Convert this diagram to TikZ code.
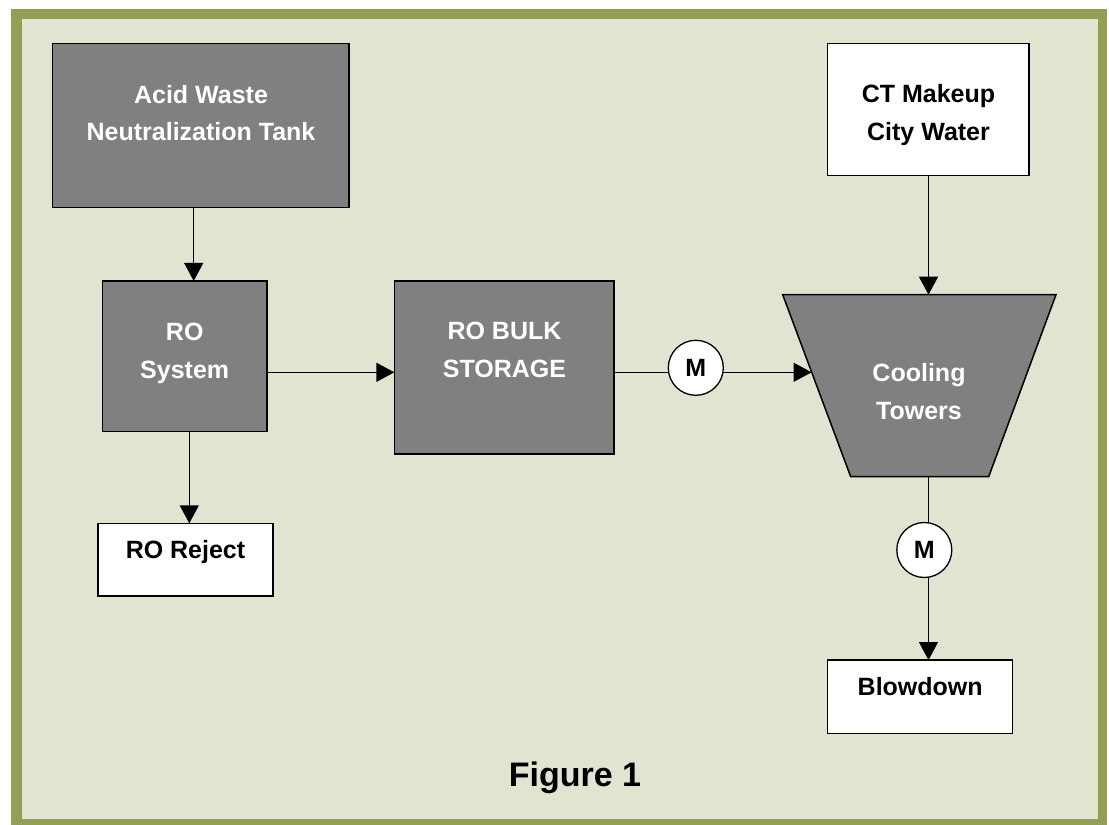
\documentclass[tikz,border=0pt]{standalone}
\usepackage{fontspec}
\setmainfont{Liberation Sans}
\usetikzlibrary{arrows.meta}
\definecolor{frameolive}{HTML}{959E55}
\definecolor{framebg}{HTML}{E2E4D2}
\definecolor{boxgray}{HTML}{808080}
\begin{document}
\begin{tikzpicture}[x=1pt,y=-1pt,
  boxg/.style={draw=black, line width=1.5pt, fill=boxgray, inner sep=0pt, outer sep=0pt},
  boxw/.style={draw=black, line width=1.5pt, fill=white, inner sep=0pt, outer sep=0pt},
  txtw/.style={text=white, font=\bfseries\fontsize{25}{37.5}\selectfont, align=center, text height=18pt, text depth=5pt, inner sep=0pt},
  txtb/.style={text=black, font=\bfseries\fontsize{25}{37.5}\selectfont, align=center, text height=18pt, text depth=5pt, inner sep=0pt},
  meter/.style={circle, draw=black, line width=1.3pt, fill=white, minimum size=55pt, inner sep=0pt, outer sep=0pt, font=\bfseries\fontsize{25}{30}\selectfont},
  ln/.style={line width=1.3pt},
  arr/.style={line width=1.3pt, -{Triangle[length=18pt,width=19pt]}}
]
\useasboundingbox (0,0) rectangle (1109,825);
\fill[white] (0,0) rectangle (1109,825);
% frame
\fill[frameolive] (11,9) rectangle (1107,835);
\fill[framebg] (21.5,19.3) rectangle (1097.5,819.3);

% boxes
\node[boxg, minimum width=296.7pt, minimum height=164pt] (acid) at (200.7,125.3) {};
\node[txtw] (acidT) at (201,134.2) {Acid Waste\\Neutralization Tank};

\node[boxg, minimum width=164.7pt, minimum height=150.7pt] (ro) at (184.7,356.3) {};
\node[txtw] (roT) at (184.7,371.5) {RO\\System};

\node[boxg, minimum width=219.7pt, minimum height=173pt] (bulk) at (504.2,367.5) {};
\node[txtw] (bulkT) at (504.5,370.5) {RO BULK\\STORAGE};

\node[boxw, minimum width=175pt, minimum height=72.7pt] (reject) at (185.5,559.7) {};
\node[txtb] (rejectT) at (185.5,552) {RO Reject};

\node[boxw, minimum width=201.3pt, minimum height=132.4pt] (ctm) at (928.3,109.5) {};
\node[txtb] (ctmT) at (928.5,133.5) {CT Makeup\\City Water};

\node[boxw, minimum width=185pt, minimum height=73.3pt] (blow) at (920.2,696.7) {};
\node[txtb] (blowT) at (920.2,689) {Blowdown};

% cooling towers (trapezoid)
\coordinate (tTL) at (782.7,294.7);
\coordinate (tTR) at (1056,294.7);
\coordinate (tBR) at (988.7,476.7);
\coordinate (tBL) at (850.7,476.7);
\draw[fill=boxgray, line width=1.5pt, line join=miter] (tTL) -- (tTR) -- (tBR) -- (tBL) -- cycle;
\coordinate (tIn) at (811.6,372.3);
\node[txtw] (towerT) at (919,412.5) {Cooling\\Towers};

% meters
\node[meter] (m1) at (695.8,367.8) {M};
\node[meter] (m2) at (924.3,550) {M};

% helper coordinates for connector lines
\coordinate (h1) at (0,372.3);
\coordinate (va) at (193.7,0);
\coordinate (vr) at (189.3,0);
\coordinate (vc) at (928.5,0);

% connectors
\draw[arr] (acid.south -| va) -- (ro.north -| va);
\draw[arr] (ro.east |- h1) -- (bulk.west |- h1);
\draw[ln] (bulk.east |- h1) -- (m1.west |- h1);
\draw[arr] (m1.east |- h1) -- (tIn);
\draw[arr] (ctm.south -| vc) -- (tTL -| vc);
\draw[arr] (ro.south -| vr) -- (reject.north -| vr);
\draw[ln] (tBL -| vc) -- (m2.north -| vc);
\draw[arr] (m2.south -| vc) -- (blow.north -| vc);

% caption
\node[anchor=base, font=\bfseries\fontsize{34}{40}\selectfont, inner sep=0pt] (fig) at (575,786.7) {Figure 1};
\end{tikzpicture}
\end{document}
